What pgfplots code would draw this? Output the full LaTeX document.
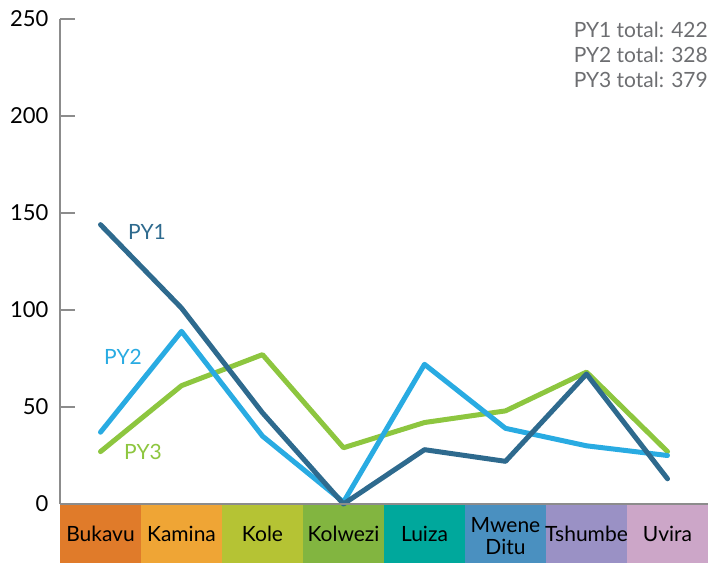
\documentclass[border=0pt]{standalone}
\usepackage{fontspec}
\setmainfont{Lato}
\usepackage{pgfplots}
\pgfplotsset{compat=1.18}
\definecolor{cPYa}{HTML}{2E6A8E}
\definecolor{cPYb}{HTML}{29ABE2}
\definecolor{cPYc}{HTML}{8DC63F}
\definecolor{axgray}{HTML}{8C8C8C}
\definecolor{txtgray}{HTML}{6D6E71}
\definecolor{k1}{HTML}{E07B2A}
\definecolor{k2}{HTML}{EFA535}
\definecolor{k3}{HTML}{B5C334}
\definecolor{k4}{HTML}{82B540}
\definecolor{k5}{HTML}{00A89C}
\definecolor{k6}{HTML}{4A90C0}
\definecolor{k7}{HTML}{9A91C5}
\definecolor{k8}{HTML}{CCA6C8}
\tikzset{catlab/.style={font=\fontsize{21}{22}\selectfont, inner sep=0pt, align=center}}
\begin{document}
\begin{tikzpicture}
\path[use as bounding box] (-60pt,-59pt) rectangle (648pt,504pt);
\begin{axis}[
  scale only axis, width=648pt, height=485pt,
  xmin=-0.5, xmax=7.5, ymin=0, ymax=250,
  clip=false,
  axis x line*=bottom, axis y line*=left,
  axis line style={axgray, line width=1.5pt},
  tick style={axgray, line width=1.5pt},
  tick align=inside,
  ytick={0,50,100,150,200,250},
  y tick label style={font=\fontsize{22}{26}\selectfont, xshift=-8pt},
  /pgf/number format/assume math mode=true,
  xtick=\empty,
  minor xtick={0.5,1.5,2.5,3.5,4.5,5.5,6.5},
  major tick length=15pt,
  minor tick length=12pt,
]
\addplot[ybar, bar width=1, bar shift=0pt, fill=k1, draw=none] coordinates {(0,-30.4)};
\addplot[ybar, bar width=1, bar shift=0pt, fill=k2, draw=none] coordinates {(1,-30.4)};
\addplot[ybar, bar width=1, bar shift=0pt, fill=k3, draw=none] coordinates {(2,-30.4)};
\addplot[ybar, bar width=1, bar shift=0pt, fill=k4, draw=none] coordinates {(3,-30.4)};
\addplot[ybar, bar width=1, bar shift=0pt, fill=k5, draw=none] coordinates {(4,-30.4)};
\addplot[ybar, bar width=1, bar shift=0pt, fill=k6, draw=none] coordinates {(5,-30.4)};
\addplot[ybar, bar width=1, bar shift=0pt, fill=k7, draw=none] coordinates {(6,-30.4)};
\addplot[ybar, bar width=1, bar shift=0pt, fill=k8, draw=none] coordinates {(7,-30.4)};
\addplot[cPYc, line width=5pt, line join=round, line cap=round] coordinates {
(0,27) (1,61) (2,77) (3,29) (4,42) (5,48) (6,68) (7,27)};
\addplot[cPYb, line width=5pt, line join=round, line cap=round] coordinates {
(0,37) (1,89) (2,35) (3,1) (4,72) (5,39) (6,30) (7,25)};
\addplot[cPYa, line width=5pt, line join=round, line cap=round] coordinates {
(0,144) (1,101) (2,47) (3,0) (4,28) (5,22) (6,67) (7,13)};
\draw[axgray, line width=1.5pt] (axis cs:-0.5,0) -- (axis cs:7.5,0);
\node[catlab] at (axis cs:0,-15.5) {Bukavu};
\node[catlab] at (axis cs:1,-15.5) {Kamina};
\node[catlab] at (axis cs:2,-15.5) {Kole};
\node[catlab] at (axis cs:3,-15.5) {Kolwezi};
\node[catlab] at (axis cs:4,-15.5) {Luiza};
\node[catlab] at (axis cs:5,-16.5) {Mwene\\Ditu};
\node[catlab] at (axis cs:6,-15.5) {Tshumbe};
\node[catlab] at (axis cs:7,-15.5) {Uvira};
\node[font=\fontsize{21}{24}\selectfont, text=cPYa] at (axis cs:0.574,140) {PY1};
\node[font=\fontsize{21}{24}\selectfont, text=cPYb] at (axis cs:0.278,76) {PY2};
\node[font=\fontsize{21}{24}\selectfont, text=cPYc] at (axis cs:0.525,27) {PY3};
\node[anchor=north east, inner sep=0pt, align=right, text=txtgray, yshift=-3pt,
  font=\fontsize{21}{25}\selectfont] at (rel axis cs:1,1) {PY1 total: 422\\PY2 total: 328\\PY3 total: 379};
\end{axis}
\end{tikzpicture}
\end{document}
